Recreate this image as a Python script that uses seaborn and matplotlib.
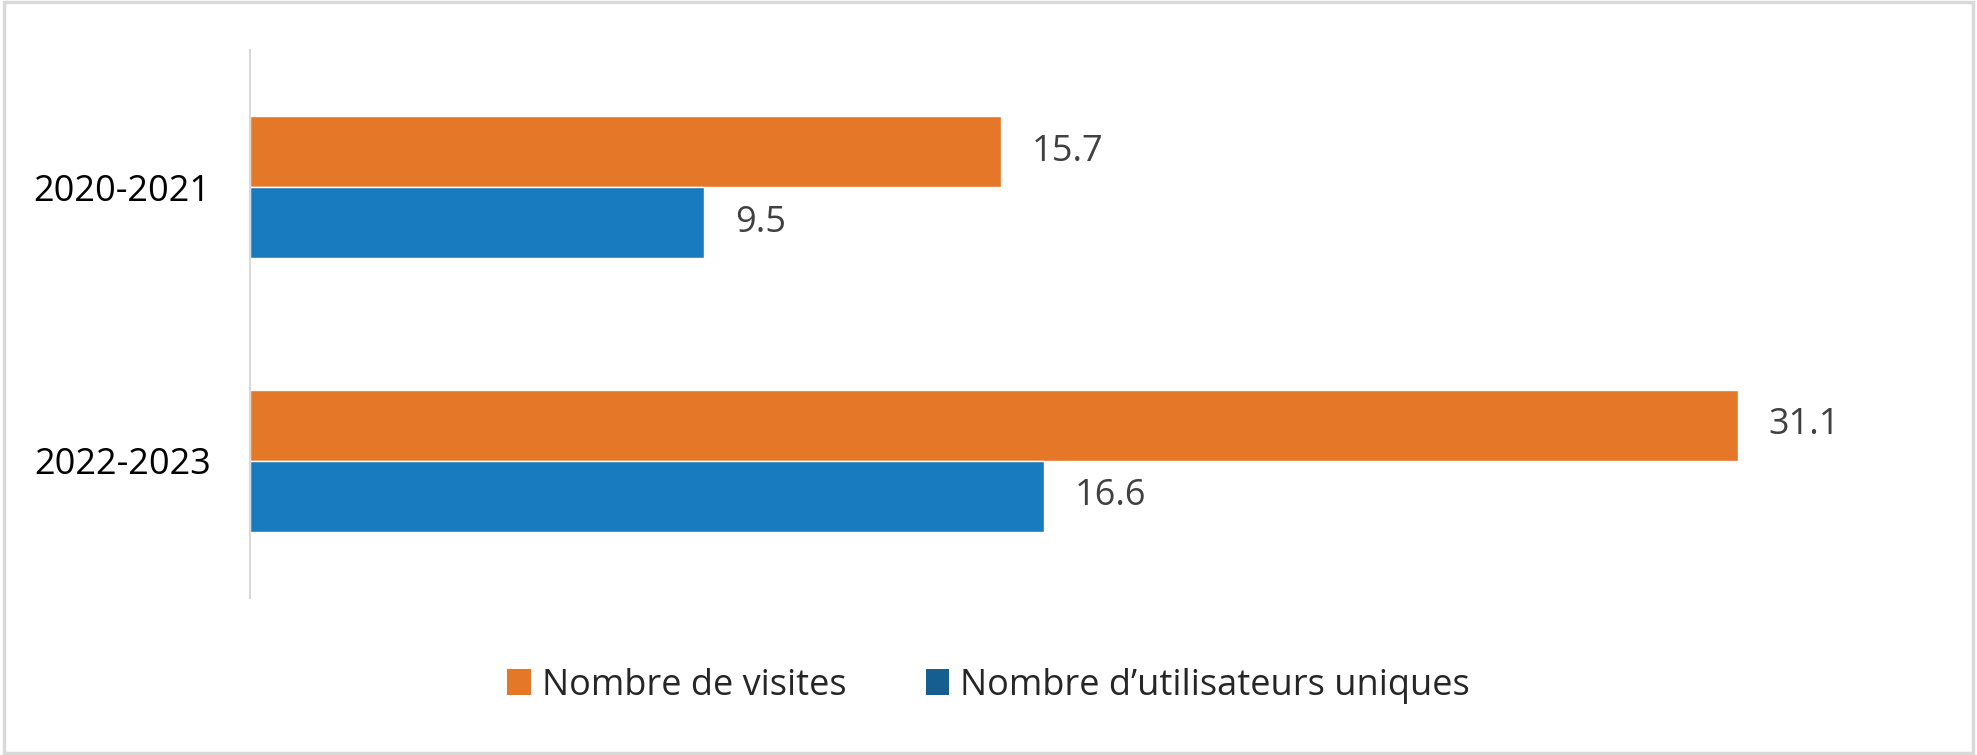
import pandas as pd
import matplotlib.pyplot as plt
import matplotlib.patches as patches
import seaborn as sns

# data
periods = ['2020-2021', '2022-2023']
series = ['Nombre de visites', 'Nombre d\u2019utilisateurs uniques']
visites = [15.7, 31.1]
utilisateurs = [9.5, 16.6]

bar_colors = ['#E57728', '#187BC0']
legend_colors = ['#E57728', '#145E90']

df = pd.DataFrame({
    'periode': periods * 2,
    'serie': [series[0]] * 2 + [series[1]] * 2,
    'valeur': visites + utilisateurs,
})

sns.set_theme(style='white')
plt.rcParams['font.family'] = ['Open Sans', 'DejaVu Sans']

fig = plt.figure(figsize=(19.77, 7.55), dpi=100)
fig.patch.set_facecolor('white')
ax = fig.add_axes([0.1263, 0.2083, 0.8495, 0.725])

sns.barplot(data=df, y='periode', x='valeur', hue='serie', order=periods,
            hue_order=series, palette=bar_colors, orient='h', width=0.52,
            saturation=1, ax=ax, legend=False)

for cont in ax.containers:
    ax.bar_label(cont, fmt='%.1f', padding=22, fontsize=26, color='#404040')

ax.set_xlim(0, 35.1)
ax.set_ylim(1.5, -0.5)
ax.set_xlabel('')
ax.set_ylabel('')
ax.set_xticks([])
ax.tick_params(axis='y', length=0, pad=28, labelsize=26, labelcolor='black')
for s in ['top', 'right', 'bottom']:
    ax.spines[s].set_visible(False)
ax.spines['left'].set_color('#D9D9D9')
ax.spines['left'].set_linewidth(1.5)

handles = [patches.Patch(facecolor=c, edgecolor='none') for c in legend_colors]
fig.legend(handles, series, loc='center', bbox_to_anchor=(0.5, 0.092), ncol=2,
           frameon=False, fontsize=26, handlelength=0.65, handleheight=0.75,
           handletextpad=0.3, columnspacing=2.2)

# light grey frame round the whole chart
fig.add_artist(patches.Rectangle((0.002, 0.003), 0.996, 0.994, transform=fig.transFigure,
                                 fill=False, edgecolor='#D9D9D9', linewidth=2.5))

fig.savefig('out.png', dpi=100, facecolor='white')
